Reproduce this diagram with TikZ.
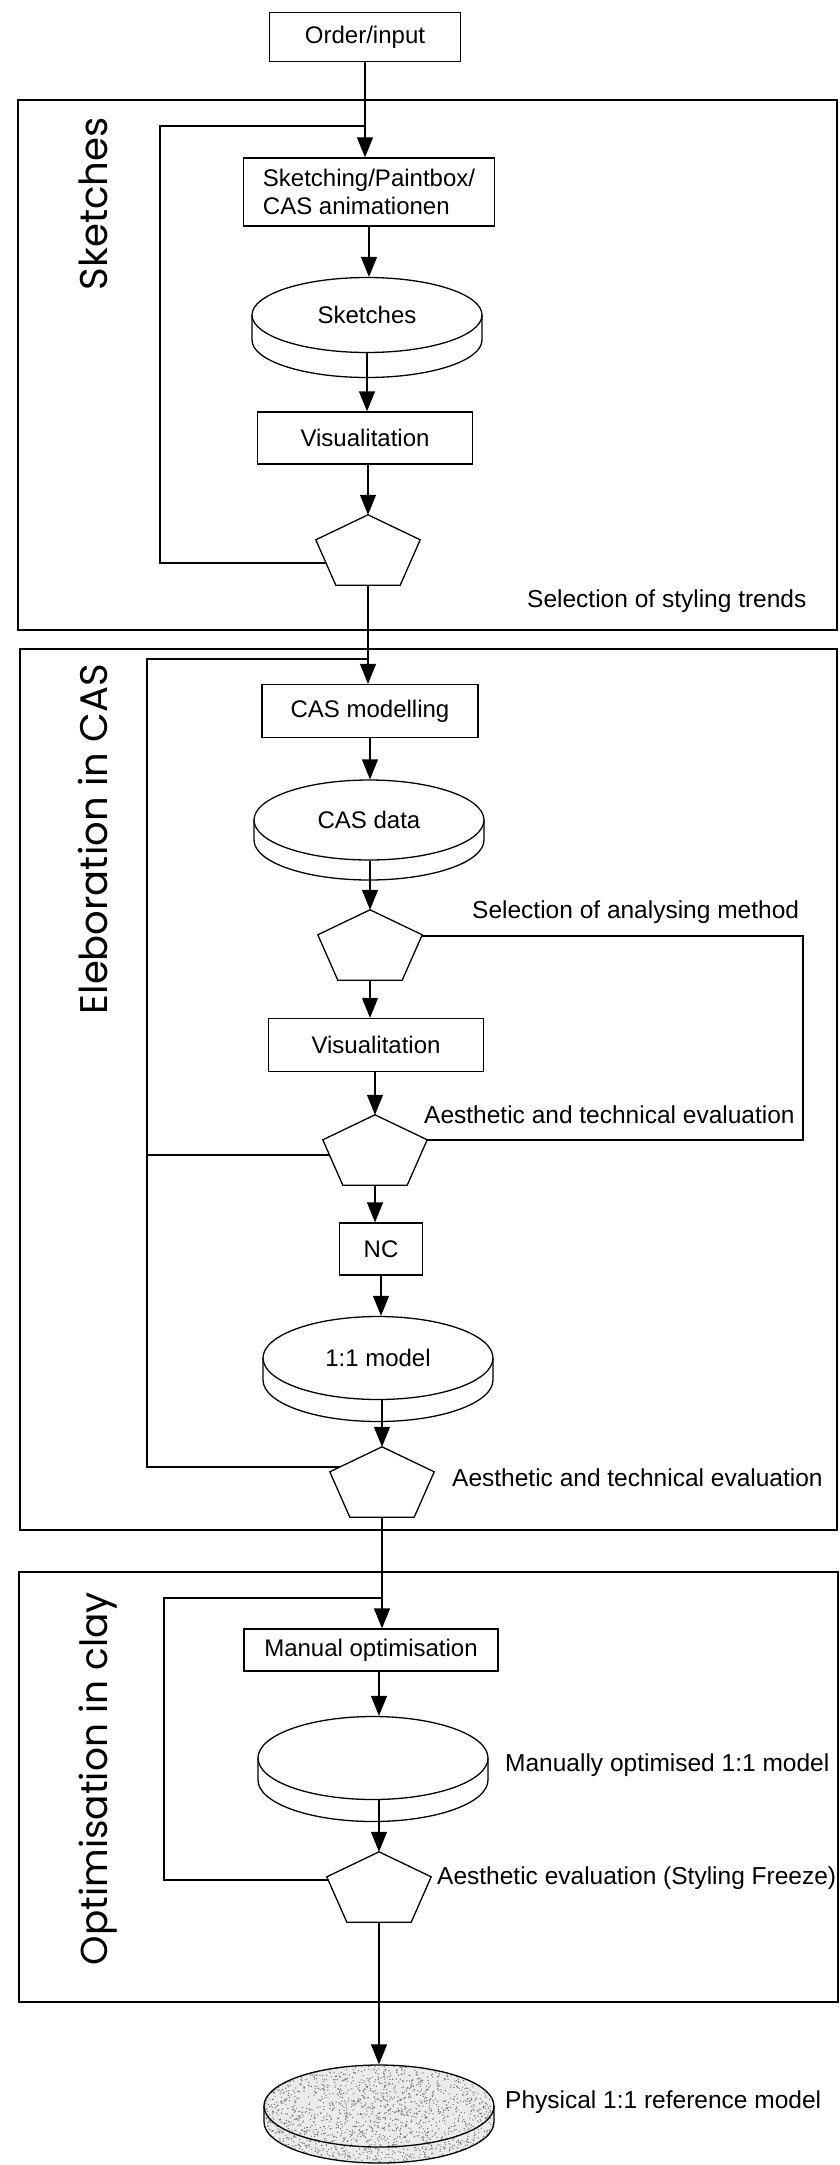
\documentclass[tikz,border=0pt]{standalone}
\usepackage{fontspec}
\setmainfont{Liberation Sans}
\newfontfamily\stagefont{Poppins}
\usetikzlibrary{arrows.meta,calc,shapes.geometric}

% side band of a disk (drawn before its top ellipse): centre x, centre y, y radius, depth, fill
\newcommand\diskband[5]{%
  \path[ln, draw, fill=#5] ({#1-115},{#2}) -- ({#1-115},{#2-#4})
    arc[start angle=180, end angle=360, x radius=115, y radius=#3] -- ({#1+115},{#2});}
% pentagon drawn inside the frame of a 'choice' node
\newcommand\pent[1]{%
  \filldraw[ln, fill=white] (#1.north) -- ([yshift=-25pt]#1.north east)
    -- ([xshift=-20pt]#1.south east) -- ([xshift=20pt]#1.south west)
    -- ([yshift=-25pt]#1.north west) -- cycle;}

\tikzset{
  ln/.style={line width=1.3pt},
  arr/.style={ln, -{Triangle[length=20pt,width=16pt]}},
  box/.style={draw, ln, fill=white, rectangle, inner sep=0pt,
    font=\fontsize{24}{28}\selectfont, align=center},
  disk/.style={ellipse, draw, ln, minimum width=230pt, inner sep=0pt,
    font=\fontsize{24}{28}\selectfont},
  choice/.style={rectangle, minimum width=104pt, minimum height=70pt, inner sep=0pt},
  note/.style={anchor=west, inner sep=0pt, font=\fontsize{24.5}{28}\selectfont},
  stage/.style={rotate=90, anchor=base east, inner sep=0pt,
    font=\fontsize{39}{40}\selectfont\stagefont},
  frame/.style={draw, ln},
}

\begin{document}
\begin{tikzpicture}[x=1pt, y=1pt]
\useasboundingbox (0,0) rectangle (839,-2165);
\fill[white] (0,0) rectangle (839,-2165);

% stage frames
\draw[frame] (18,-100) rectangle (837,-630);
\draw[frame] (20,-649) rectangle (837,-1530);
\draw[frame] (19,-1572) rectangle (838,-2002);

% stage titles
\node[stage] (st1) at (107,-117) {\resizebox{173pt}{!}{Sketches}};
\node[stage] (st2) at (107,-664) {\resizebox{350pt}{!}{Eleboration in CAS}};
\node[stage] (st3) at (107,-1592) {\resizebox{373pt}{!}{Optimisation in clay}};

% disk side bands
\diskband{367}{-315}{37.5}{25}{white}
\diskband{369}{-820}{40}{20}{white}
\diskband{378}{-1358}{41.5}{22}{white}
\diskband{373}{-1758}{41.5}{22}{white}

% stippled physical model
\begin{scope}
  \clip (264,-2106) arc[start angle=180, end angle=0, x radius=115, y radius=41]
    -- (494,-2122) arc[start angle=0, end angle=-180, x radius=115, y radius=41] -- cycle;
  \fill[black!8] (260,-2060) rectangle (498,-2170);
  \pgfmathsetseed{42}
  \foreach \i in {1,...,2600}
    \fill[black!55] ({379+116*rand},{-2114+62*rand}) circle (0.7);
\end{scope}
\diskband{379}{-2106}{41}{16}{none}

% process steps
\node[box, minimum width=191pt, minimum height=49pt] (order) at (365,-37) {Order/input};
\node[box, minimum width=251pt, minimum height=68pt, align=left] (skb) at (369,-192)
  {Sketching/Paintbox/\\CAS animationen};
\node[disk, fill=white, minimum height=75pt] (sk) at (367,-315) {Sketches};
\node[box, minimum width=215pt, minimum height=52pt] (vis1) at (365,-438) {Visualitation};
\node[choice] (p1) at (368,-550) {};

\node[box, minimum width=216pt, minimum height=53pt] (cas) at (370,-711) {CAS modelling};
\node[disk, fill=white, minimum height=80pt] (casd) at (369,-820) {CAS data};
\node[choice] (p2) at (370,-945) {};
\node[box, minimum width=215pt, minimum height=53pt] (vis2) at (376,-1045) {Visualitation};
\node[choice] (p3) at (375,-1150) {};
\node[box, minimum width=83pt, minimum height=52pt] (nc) at (381,-1249) {NC};
\node[disk, fill=white, minimum height=83pt] (m11) at (378,-1358) {1:1 model};
\node[choice] (p4) at (382,-1482) {};

\node[box, minimum width=254pt, minimum height=42pt] (man) at (371,-1650) {Manual optimisation};
\node[disk, fill=white, minimum height=83pt] (mand) at (373,-1758) {};
\node[choice] (p5) at (379,-1887) {};
\node[disk, minimum height=82pt] (phys) at (379,-2106) {};

% annotations
\node[note] (t1) at (527,-601) {Selection of styling trends};
\node[note] (t2) at (472,-912) {Selection of analysing method};
\node[note] (t3) at (424,-1115) {Aesthetic and technical evaluation};
\node[note] (t4) at (452,-1478) {Aesthetic and technical evaluation};
\node[note] (t5) at (505,-1765) {Manually optimised 1:1 model};
\node[note] (t6) at (437,-1878) {Aesthetic evaluation (Styling Freeze)};
\node[note] (t7) at (505,-2102) {Physical 1:1 reference model};

% main flow
\draw[arr] (order.south) -- (order.south |- skb.north);
\draw[arr] (skb.south) -- (skb.south |- sk.north);
\draw[arr] (sk.south) -- (sk.south |- vis1.north);
\draw[arr] (vis1.south -| p1.north) -- (p1.north);
\draw[arr] (p1.south) -- (p1.south |- cas.north);
\draw[arr] (cas.south) -- (cas.south |- casd.north);
\draw[arr] (casd.south -| p2.north) -- (p2.north);
\draw[arr] (p2.south) -- (p2.south |- vis2.north);
\draw[arr] (vis2.south -| p3.north) -- (p3.north);
\draw[arr] (p3.south) -- (p3.south |- nc.north);
\draw[arr] (nc.south) -- (nc.south |- m11.north);
\draw[arr] (m11.south -| p4.north) -- (p4.north);
\draw[arr] (p4.south) -- (p4.south |- man.north);
\draw[arr] (man.south -| p5.north) -- (mand.north -| p5.north);
\draw[arr] (mand.south -| p5.north) -- (p5.north);
\draw[arr] (p5.south) -- (p5.south |- phys.north);

% feedback loops
\coordinate (l1t) at (160,-126);
\coordinate (l1b) at (160,-563);
\draw[ln] (p1.center |- l1b) -- (l1b) -- (l1t) -- (l1t -| order.south);

\coordinate (l2t) at (147,-659);
\coordinate (l2m) at (147,-1155);
\coordinate (l2b) at (147,-1467);
\draw[ln] (p4.center |- l2b) -- (l2b) -- (l2t) -- (l2t -| p1.south);
\draw[ln] (p3.center |- l2m) -- (l2m);

\coordinate (rt) at (803,-936);
\coordinate (rb) at (803,-1140);
\draw[ln] (p2.center |- rt) -- (rt) -- (rb) -- (rb -| p3.center);

\coordinate (l3t) at (164,-1598);
\coordinate (l3b) at (164,-1880);
\draw[ln] (p5.center |- l3b) -- (l3b) -- (l3t) -- (l3t -| p4.south);

% decision pentagons
\pent{p1}
\pent{p2}
\pent{p3}
\pent{p4}
\pent{p5}
\end{tikzpicture}
\end{document}
